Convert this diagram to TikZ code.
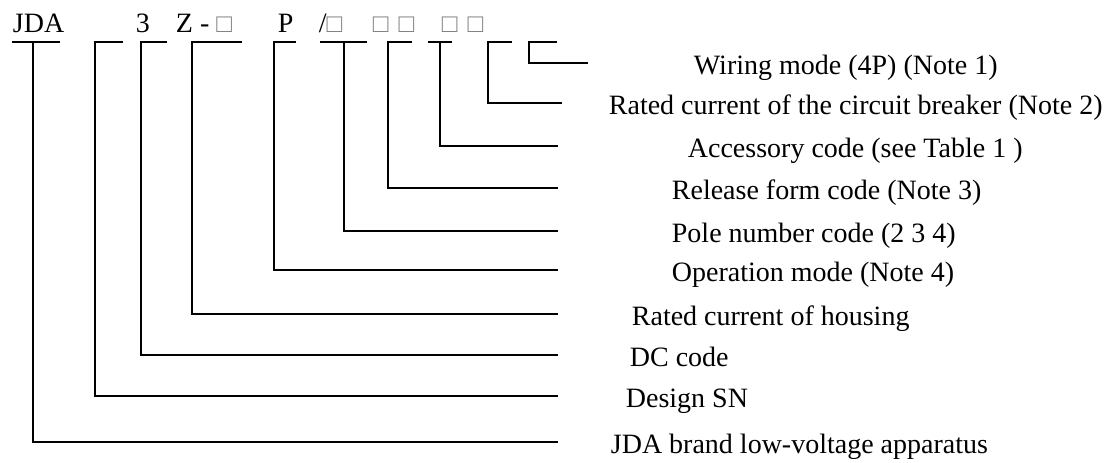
\documentclass[tikz,border=0pt]{standalone}
\usepackage{fontspec}
\setmainfont{Liberation Serif}
\newcommand{\sqbox}{{\color{gray}\fontsize{13pt}{13pt}\selectfont □}}
\begin{document}
\begin{tikzpicture}[x=0.5pt, y=-0.5pt, line width=0.9pt,
  code/.style={anchor=base west, inner sep=0pt, font=\fontsize{14pt}{17pt}\selectfont},
  desc/.style={anchor=base west, inner sep=0pt, font=\fontsize{14pt}{17pt}\selectfont}]
  \useasboundingbox (0,0) rectangle (1118,462);
  % model designation
  \node[code] (jda) at (12,32) {JDA};
  \node[code] (three) at (135,32) {3};
  \node[code] (zcode) at (175,32) {Z - \sqbox};
  \node[code] (pcode) at (277,32) {P};
  \node[code] (poles) at (318,32) {/\sqbox};
  \node[code] (release) at (372,32) {\sqbox\hspace{5pt}\sqbox};
  \node[code] (access) at (441,32) {\sqbox\hspace{5pt}\sqbox};
  % brackets
  \draw (12,42) -- (60,42);
  \draw (33,42) |- (558,442);
  \draw (123,42) -- (95,42) |- (558,396);
  \draw (167,42) -- (141,42) |- (558,355);
  \draw (242,42) -- (192,42) |- (558,314);
  \draw (296,42) -- (274,42) |- (558,270);
  \draw (320,42) -- (367,42);
  \draw (344,42) |- (558,231);
  \draw (412,42) -- (388,42) |- (558,188);
  \draw (428,42) -- (452,42);
  \draw (440,42) |- (558,146);
  \draw (512,42) -- (488,42) |- (562,103);
  \draw (557,42) -- (529,42) |- (588,63);
  % explanations
  \node[desc] (wiring) at (693,74) {Wiring mode (4P) (Note 1)};
  \node[desc] (rated) at (608,114) {Rated current of the circuit breaker (Note 2)};
  \node[desc] (accessory) at (687,157) {Accessory code (see Table 1 )};
  \node[desc] (releaseform) at (671,199) {Release form code (Note 3)};
  \node[desc] (polenum) at (671,242) {Pole number code (2 3 4)};
  \node[desc] (operation) at (671,281) {Operation mode (Note 4)};
  \node[desc] (housing) at (631,325) {Rated current of housing};
  \node[desc] (dc) at (629,366) {DC code};
  \node[desc] (design) at (625,407) {Design SN};
  \node[desc] (brand) at (610,453) {JDA brand low-voltage apparatus};
\end{tikzpicture}
\end{document}
